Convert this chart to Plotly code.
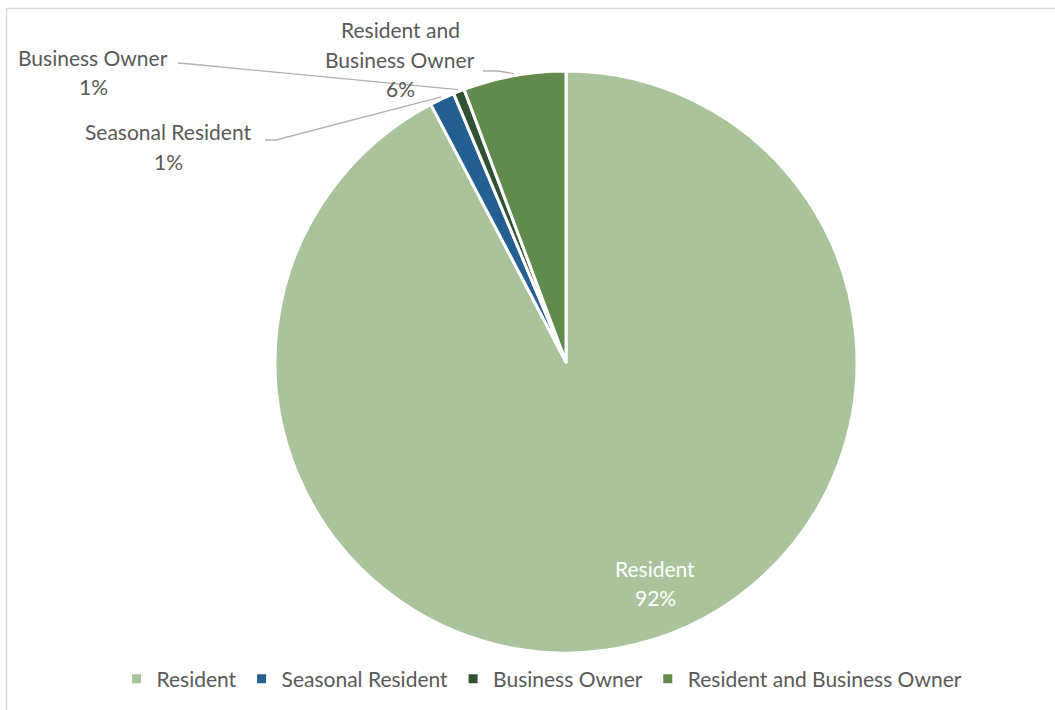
import math
import plotly.graph_objects as go

# Survey respondents by type
categories = ["Resident", "Seasonal Resident", "Business Owner", "Resident and Business Owner"]
counts = [600, 9, 4, 37]
colors = ["#A9C49A", "#255E91", "#2F5233", "#618A4D"]

W, H = 1055, 710
CX, CY, R = 566, 362, 291          # pie centre and radius in pixels
FONT = "Lato"
TEXT_GRAY = "#595959"
LINE_GRAY = "#B4B0B0"
FS = 21
LINE_STEP = 29

total = sum(counts)
shares = [c / total for c in counts]


def px(x):
    return x / W


def py(y):
    return 1 - y / H


def mid_point(i, r):
    """Pixel point at radius r on the middle angle of slice i (clockwise from 12 o'clock)."""
    start = sum(shares[:i])
    a = 2 * math.pi * (start + shares[i] / 2)
    return CX + r * math.sin(a), CY - r * math.cos(a)


fig = go.Figure(go.Pie(
    labels=categories,
    values=counts,
    sort=False,
    direction="clockwise",
    rotation=0,
    marker=dict(colors=colors, line=dict(color="white", width=3)),
    textinfo="none",
    hoverinfo="label+percent",
    domain=dict(x=[px(CX - R), px(CX + R)], y=[py(CY + R), py(CY - R)]),
))

# label layout: text lines, centre x, first line y, leader path start (None = inside label)
label_layout = {
    "Resident": dict(lines=["Resident"], x=655, y=568, color="white", leader=None),
    "Seasonal Resident": dict(lines=["Seasonal Resident"], x=168, y=132, color=TEXT_GRAY,
                              leader=[(265, 140), (276, 140)]),
    "Business Owner": dict(lines=["Business Owner"], x=93, y=57, color=TEXT_GRAY,
                           leader=[(178, 63), (190, 64)]),
    "Resident and Business Owner": dict(lines=["Resident and", "Business Owner"], x=400, y=30,
                                        color=TEXT_GRAY, leader=[(483, 71), (498, 71)]),
}

annotations = []
shapes = []
for i, cat in enumerate(categories):
    lay = label_layout[cat]
    lines = lay["lines"] + [f"{round(shares[i] * 100):d}%"]
    for k, t in enumerate(lines):
        annotations.append(dict(
            x=px(lay["x"]), y=py(lay["y"] + k * LINE_STEP), xref="paper", yref="paper",
            text=t, showarrow=False, xanchor="center", yanchor="middle",
            font=dict(family=FONT, size=FS, color=lay["color"]),
        ))
    if lay["leader"]:
        pts = lay["leader"] + [mid_point(i, R + 2)]
        path = "M " + " L ".join(f"{px(x):.5f},{py(y):.5f}" for x, y in pts)
        shapes.append(dict(type="path", path=path, xref="paper", yref="paper",
                           line=dict(color=LINE_GRAY, width=1.3)))

# chart area frame
shapes.append(dict(type="rect", xref="paper", yref="paper",
                   x0=px(6.5), x1=1.02, y0=-0.02, y1=py(8.5),
                   line=dict(color="#D9D9D9", width=1.5), fillcolor="rgba(0,0,0,0)"))

fig.update_layout(
    width=W, height=H,
    margin=dict(l=0, r=0, t=0, b=0),
    paper_bgcolor="white",
    plot_bgcolor="white",
    showlegend=True,
    legend=dict(orientation="h", x=px(542), xanchor="center", y=py(679), yanchor="middle",
                font=dict(family=FONT, size=FS, color=TEXT_GRAY),
                itemwidth=30, tracegroupgap=0, traceorder="normal"),
    annotations=annotations,
    shapes=shapes,
)

fig.write_html("out.html")
